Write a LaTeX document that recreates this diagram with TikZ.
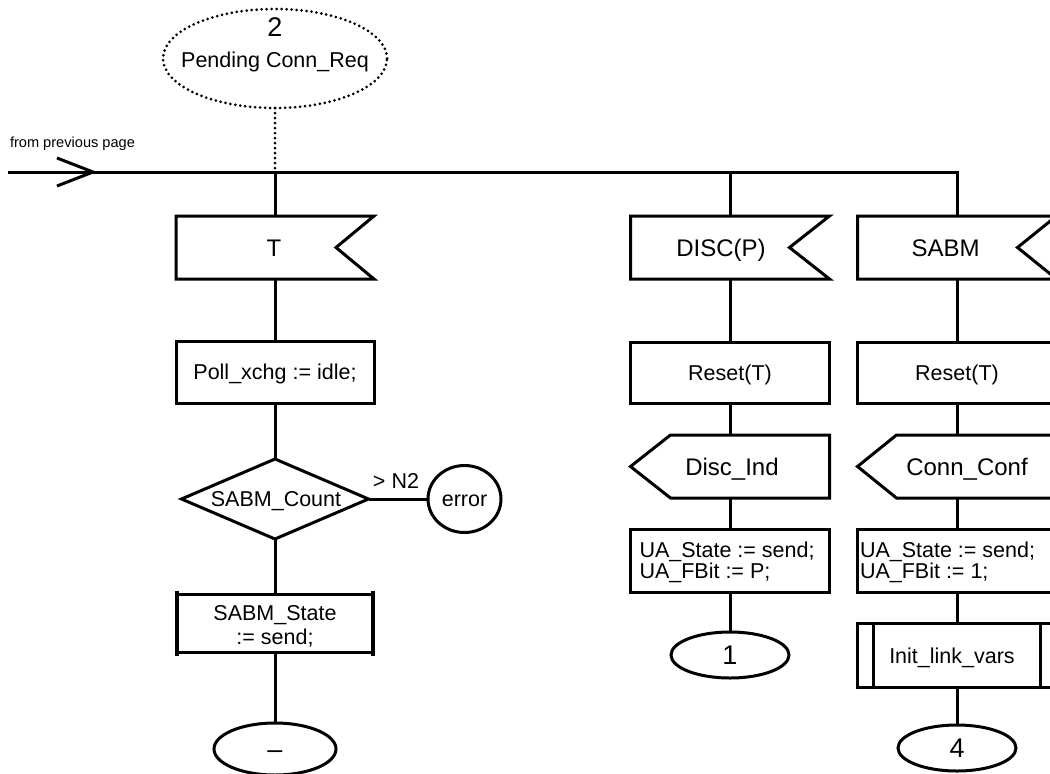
\documentclass[tikz,border=0pt]{standalone}
\usepackage{fontspec}
\setmainfont{Liberation Sans}
\usetikzlibrary{calc,shapes.geometric}
\newcommand{\fsBox}{\fontsize{21.5}{24}\selectfont}
\newcommand{\fsSig}{\fontsize{24}{28}\selectfont}
\newcommand{\fsBig}{\fontsize{27}{30}\selectfont}
\newcommand{\fsUA}{\fontsize{21.5}{21}\selectfont}
\newcommand{\fsSmall}{\fontsize{14.6}{17}\selectfont}
\begin{document}
\begin{tikzpicture}[x=1pt,y=-1pt,
  every node/.style={inner sep=0pt,outer sep=0pt},
  conn/.style={line width=3pt},
  outline/.style={line width=3pt, line join=miter},
  dotline/.style={line width=3pt, dash pattern=on 0pt off 5pt, line cap=round},
  boxtxt/.style={font=\fsBox, text height=15.4pt, text depth=0pt},
  sigtxt/.style={font=\fsSig, text height=17.2pt, text depth=0pt},
  bigtxt/.style={font=\fsBig, text height=19.3pt, text depth=0pt},
  multitxt/.style={font=\fsBox, align=center},
  uatxt/.style={font=\fsUA, align=left, anchor=west},
  sdlframe/.style={rectangle, minimum width=199pt, minimum height=#1},
  sdlframe/.default=62pt,
  taskbox/.style={sdlframe=#1, draw, line width=3pt, boxtxt},
  taskbox/.default=62pt,
  term/.style={draw, ellipse, line width=3pt, bigtxt, minimum width=118pt, minimum height=46pt}
]
\useasboundingbox (0,0) rectangle (1050,774);
\clip (0,0) rectangle (1050,774);

% ---------- state and entry line ----------
\node[draw, ellipse, dotline, minimum width=224pt, minimum height=99pt] (start) at (275,58.5) {};
\node[bigtxt] (stnum) at (275,27) {2};
\node[boxtxt] (stname) at (275,59.5) {Pending Conn\_Req};
\node[font=\fsSmall, anchor=base west] (fpp) at (10,147) {from previous page};

\coordinate (lstart) at (8,172);
\coordinate (arrtip) at (93,172);
\coordinate (junc1) at (275,172);
\coordinate (junc2) at (730,172);
\coordinate (junc3) at (957,172);

% ---------- column 1 ----------
\node[sdlframe=63pt, minimum width=198pt] (inT) at (275,247.5) {};
\draw[outline] (inT.north west) -- (inT.north east) -- ($(inT.east)+(-38,0)$) -- (inT.south east) -- (inT.south west) -- cycle;
\node[sigtxt] (tT) at (274,247.5) {T};

\node[taskbox, minimum width=198pt] (poll) at (275,372) {Poll\_xchg := idle;};

\node[rectangle, minimum width=187pt, minimum height=80pt] (dia) at (275,499) {};
\draw[outline] (dia.north) -- (dia.east) -- (dia.south) -- (dia.west) -- cycle;
\node[boxtxt] (tdia) at (276,499) {SABM\_Count};

\node[draw, ellipse, line width=3pt, boxtxt, minimum width=73pt, minimum height=67pt] (err) at (464.5,499) {error};
\node[boxtxt] (n2) at (396,481) {> N2};

\node[sdlframe=58pt, minimum width=196pt, draw, line width=3pt] (sst) at (275,623) {};
\node[multitxt] (tsst) at (275,626) {SABM\_State\\:= send;};
\draw[line width=3.6pt] ([yshift=3.5pt]sst.north west) -- ([yshift=-3.5pt]sst.south west);
\draw[line width=3.6pt] ([yshift=3.5pt]sst.north east) -- ([yshift=-3.5pt]sst.south east);

\node[term, minimum width=122pt, minimum height=52pt] (endA) at (275,749) {–};

% ---------- column 2 ----------
\node[sdlframe=63pt] (inD) at (730,247.5) {};
\draw[outline] (inD.north west) -- (inD.north east) -- ($(inD.east)+(-40,0)$) -- (inD.south east) -- (inD.south west) -- cycle;
\node[sigtxt] (tD) at (721,247.5) {DISC(P)};

\node[taskbox=61pt] (resD) at (730,372.5) {Reset(T)};

\node[sdlframe=63pt] (outD) at (730,466.5) {};
\draw[outline] ($(outD.north west)+(40,0)$) -- (outD.north east) -- (outD.south east) -- ($(outD.south west)+(40,0)$) -- (outD.west) -- cycle;
\node[sigtxt] (tDI) at (732,466.5) {Disc\_Ind};

\node[taskbox=63pt] (uaD) at (730,560.5) {};
\node[uatxt] (tuaD) at (639.5,562.5) {UA\_State := send;\\UA\_FBit := P;};

\node[term] (endD) at (730,655) {1};

% ---------- column 3 ----------
\node[sdlframe=63pt] (inS) at (957,247.5) {};
\draw[outline] (inS.north west) -- (inS.north east) -- ($(inS.east)+(-39,0)$) -- (inS.south east) -- (inS.south west) -- cycle;
\node[sigtxt] (tS) at (945.5,247.5) {SABM};

\node[taskbox=61pt] (resS) at (957,372.5) {Reset(T)};

\node[sdlframe=63pt] (outS) at (957,466.5) {};
\draw[outline] ($(outS.north west)+(39,0)$) -- (outS.north east) -- (outS.south east) -- ($(outS.south west)+(39,0)$) -- (outS.west) -- cycle;
\node[sigtxt] (tCC) at (967,466.5) {Conn\_Conf};

\node[taskbox=63pt] (uaS) at (957,560.5) {};
\node[uatxt] (tuaS) at (860,562.5) {UA\_State := send;\\UA\_FBit := 1;};

\node[taskbox=64pt] (init) at (957,655) {};
\draw[outline] ($(init.north west)+(16,0)$) -- ($(init.south west)+(16,0)$);
\draw[outline] ($(init.north east)+(-16,0)$) -- ($(init.south east)+(-16,0)$);
\node[boxtxt] (tinit) at (952,655.5) {Init\_link\_vars};

\node[term] (endS) at (957,748) {4};

% ---------- connectors ----------
\draw[conn, line join=miter] (lstart) -- (junc3) -- (inS.north);
\draw[conn, line join=miter] ($(arrtip)+(-36,-14)$) -- (arrtip) -- ($(arrtip)+(-36,14)$);
\draw[dotline] (start.south) -- (junc1);

\draw[conn] (junc1) -- (inT.north);
\draw[conn] (inT.south) -- (poll.north);
\draw[conn] (poll.south) -- (dia.north);
\draw[conn] (dia.east) -- (err.west);
\draw[conn] (dia.south) -- (sst.north);
\draw[conn] (sst.south) -- (endA.north);

\draw[conn] (junc2) -- (inD.north);
\draw[conn] (inD.south) -- (resD.north);
\draw[conn] (resD.south) -- (outD.north);
\draw[conn] (outD.south) -- (uaD.north);
\draw[conn] (uaD.south) -- (endD.north);

\draw[conn] (inS.south) -- (resS.north);
\draw[conn] (resS.south) -- (outS.north);
\draw[conn] (outS.south) -- (uaS.north);
\draw[conn] (uaS.south) -- (init.north);
\draw[conn] (init.south) -- (endS.north);
\end{tikzpicture}
\end{document}
